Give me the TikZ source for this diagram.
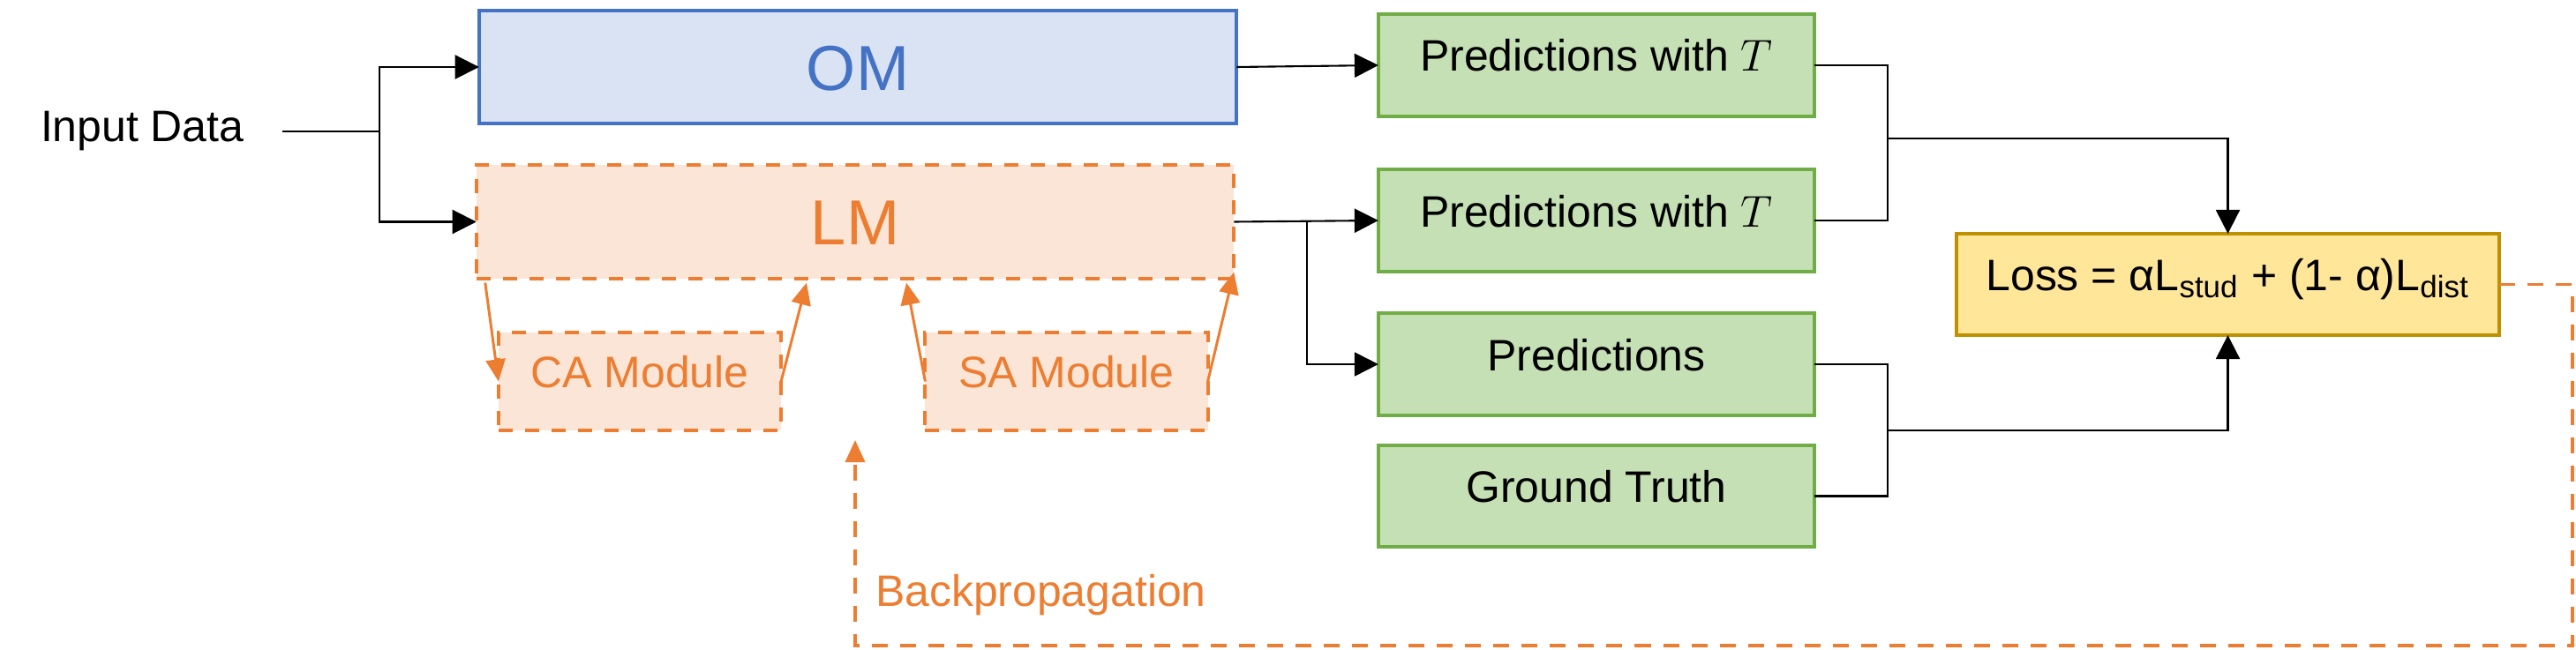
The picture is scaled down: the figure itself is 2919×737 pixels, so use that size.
\documentclass[tikz,border=0pt]{standalone}
\usepackage{fontspec}
\setmainfont{Liberation Sans}
\usetikzlibrary{arrows.meta}

\definecolor{omblue}{HTML}{4472C4}
\definecolor{omfill}{HTML}{DAE3F3}
\definecolor{lmorange}{HTML}{ED7D31}
\definecolor{lmfill}{HTML}{FBE5D6}
\definecolor{predgreen}{HTML}{70AD47}
\definecolor{predfill}{HTML}{C5E0B4}
\definecolor{lossgold}{HTML}{BF9000}
\definecolor{lossfill}{HTML}{FFE699}

\begin{document}
\begin{tikzpicture}[x=0.01cm, y=-0.01cm,
    every node/.style={font=\fontsize{14.2}{17}\selectfont, outer sep=0pt},
    bigbox/.style={draw, line width=0.04cm, minimum width=8.58cm, minimum height=1.28cm, font=\fontsize{20.5}{24}\selectfont, text height=0.52cm, text depth=0cm},
    modbox/.style={draw=lmorange, fill=lmfill, text=lmorange, line width=0.04cm, dash pattern=on 0.16cm off 0.14cm, minimum width=3.2cm, minimum height=1.11cm, text height=0.36cm, text depth=0.22cm},
    predbox/.style={draw=predgreen, fill=predfill, line width=0.04cm, minimum width=4.94cm, minimum height=1.15cm, text height=0.36cm, text depth=0.22cm},
    line/.style={line width=0.6pt},
    arrow/.style={line width=0.6pt, -{Triangle[length=0.27cm, width=0.27cm]}},
    orangearrow/.style={draw=lmorange, line width=0.03cm, -{Triangle[length=0.25cm, width=0.22cm]}}]
    \useasboundingbox (0,0) rectangle (2919,737);

    \node[anchor=base west, inner xsep=0.44cm, inner ysep=0pt](input) at (2,161) {Input Data};
    \node[bigbox, draw=omblue, fill=omfill, text=omblue](om) at (972,76) {OM};
    \node[bigbox, draw=lmorange, fill=lmfill, text=lmorange, dash pattern=on 0.16cm off 0.14cm](lm) at (969,251.5) {LM};
    \node[modbox](ca) at (725,432.5) {CA Module};
    \node[modbox](sa) at (1208.5,432.5) {SA Module};

    \node[predbox](t1) at (1809,74) {Predictions with $T$};
    \node[predbox](t2) at (1809,250) {Predictions with $T$};
    \node[predbox](pred) at (1809,413) {Predictions};
    \node[predbox](gt) at (1809,562.5) {Ground Truth};
    \node[predbox, draw=lossgold, fill=lossfill, minimum width=6.15cm](loss) at (2524.5,322.5) {Loss = αL\textsubscript{stud} + (1- α)L\textsubscript{dist}};

    \coordinate(split) at (430,148);
    \coordinate(lmsplit) at (1481,251.5);
    \coordinate(jtop) at (2139,157);
    \coordinate(jbot) at (2139,488);
    \coordinate(bpcorner) at (2915,732);
    \coordinate(bptip) at (969,499);

    \draw[line] (input.east) -| (split);
    \draw[arrow] (split) |- (om.west);
    \draw[arrow] (split) |- (lm.west);
    \draw[arrow] (om.east) -- (t1.west);
    \draw[arrow] (lm.east) -- (t2.west);
    \draw[arrow] (lmsplit) |- (pred.west);

    \draw[line] (t1.east) -| (jtop);
    \draw[line] (t2.east) -| (jtop);
    \draw[arrow] (jtop) -| (loss.north);
    \draw[line] (pred.east) -| (jbot);
    \draw[line] (gt.east) -| (jbot);
    \draw[arrow] (jbot) -| (loss.south);

    \draw[orangearrow] ([xshift=0.1cm, yshift=-0.05cm]lm.south west) -- (ca.west);
    \draw[orangearrow] (ca.east) -- ([xshift=-0.55cm, yshift=-0.05cm]lm.south);
    \draw[orangearrow] (sa.west) -- ([xshift=0.58cm, yshift=-0.05cm]lm.south);
    \draw[orangearrow] (sa.east) -- ([yshift=0.07cm]lm.south east);

    \draw[orangearrow, line width=0.035cm, dash pattern=on 0.18cm off 0.14cm] (loss.east) -| (bpcorner) -| (bptip);
    \node[anchor=base west, inner sep=0pt, text=lmorange](bplabel) at (992,687) {Backpropagation};
\end{tikzpicture}
\end{document}
